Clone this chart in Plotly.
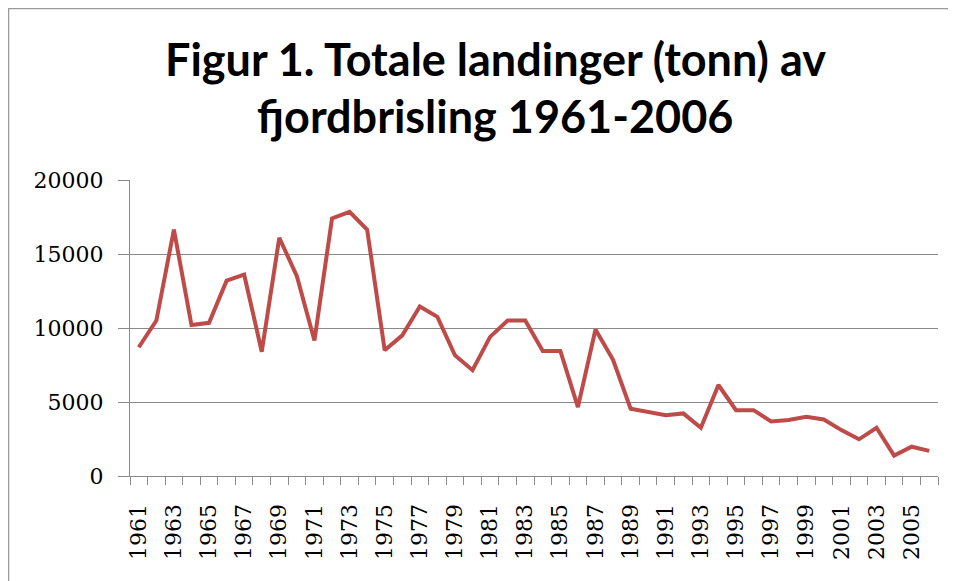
import plotly.graph_objects as go

# Totale landinger (tonn) av fjordbrisling, 1961-2006
years = list(range(1961, 2007))
landings = [
    8700, 10500, 16650, 10200, 10350, 13200, 13600, 8400, 16100, 13500,
    9150, 17400, 17850, 16650, 8500, 9500, 11450, 10750, 8150, 7150,
    9400, 10500, 10500, 8450, 8450, 4650, 9900, 7850, 4550, 4350,
    4100, 4230, 3260, 6150, 4450, 4450, 3680, 3780, 4000, 3820,
    3100, 2480, 3260, 1380, 1980, 1700,
]
label_years = [y for y in years if y % 2 == 1]
y_ticks = [0, 5000, 10000, 15000, 20000]

W, H = 956, 581
L, R, T, B = 122, 26, 172, 113
pw, ph = W - L - R, H - T - B


def px_x(p):
    return (p - L) / pw


def px_y(p):
    return (H - B - p) / ph


grey = "#8a8a8a"
tick_font = dict(family="DejaVu Serif", size=22, color="#000000")

fig = go.Figure()
fig.add_trace(go.Scatter(
    x=years, y=landings, mode="lines",
    line=dict(color="#BE4B48", width=4),
    showlegend=False, hoverinfo="x+y",
))

fig.update_xaxes(
    range=[1960.5, 2006.5],
    tickvals=label_years,
    ticktext=[str(y) for y in label_years],
    tickangle=-90,
    ticks="",
    tickfont=tick_font,
    ticklabelstandoff=18,
    showgrid=False, zeroline=False,
    showline=True, linecolor=grey, linewidth=1.2,
    minor=dict(ticks="outside", tick0=1960.5, dtick=1, ticklen=8,
               tickcolor=grey, tickwidth=1.2, showgrid=False),
)
fig.update_yaxes(
    range=[0, 20000],
    tickvals=y_ticks,
    ticktext=[str(v) for v in y_ticks],
    ticks="outside", ticklen=11, tickcolor=grey, tickwidth=1.2,
    tickfont=tick_font,
    ticklabelstandoff=10,
    showgrid=True, gridcolor=grey, gridwidth=1.2,
    zeroline=False,
    showline=True, linecolor=grey, linewidth=1.2,
)

# chart border
fig.add_shape(type="rect", xref="paper", yref="paper",
              x0=px_x(0.5), x1=px_x(962), y0=px_y(592), y1=px_y(0.5),
              line=dict(color="#9a9a9a", width=1.5), layer="below")

title_font = dict(family="Lato", size=45, color="#000000")
fig.add_annotation(text="<b>Figur 1. Totale landinger (tonn) av</b>",
                   xref="paper", yref="paper", x=px_x(487), y=px_y(51),
                   xanchor="center", yanchor="middle", showarrow=False,
                   font=title_font)
fig.add_annotation(text="<b>fjordbrisling 1961-2006</b>",
                   xref="paper", yref="paper", x=px_x(487), y=px_y(108),
                   xanchor="center", yanchor="middle", showarrow=False,
                   font=title_font)

fig.update_layout(
    width=W, height=H,
    margin=dict(l=L, r=R, t=T, b=B),
    paper_bgcolor="white", plot_bgcolor="white",
)

fig.write_html("out.html")
